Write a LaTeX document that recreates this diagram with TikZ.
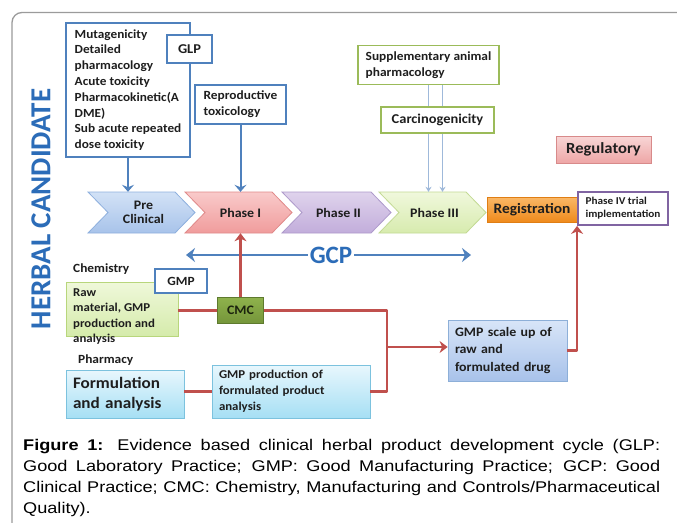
\documentclass[tikz,border=0pt]{standalone}
\usepackage{fontspec}
\setmainfont[FakeStretch=1.07]{Carlito}
\newfontfamily\plainfont{Carlito}
\newfontfamily\capfont[FakeStretch=1.17]{Liberation Sans}
\usetikzlibrary{arrows.meta}
\definecolor{accblue}{HTML}{4F81BD}
\definecolor{accred}{HTML}{C0504D}
\definecolor{accgreen}{HTML}{9BBB59}
\definecolor{accpurple}{HTML}{8064A2}
\definecolor{titleblue}{HTML}{2B6CB8}
\definecolor{txt}{HTML}{1E1E1E}
\definecolor{framegray}{HTML}{9B9B9B}
\definecolor{thinblue}{HTML}{9FB9DA}
\definecolor{ChevPreT}{HTML}{D2E2F6}
\definecolor{ChevPreB}{HTML}{A8C3EA}
\definecolor{ChevPreD}{HTML}{8EB0DE}
\definecolor{ChevOneT}{HTML}{F9CACA}
\definecolor{ChevOneB}{HTML}{F09C9C}
\definecolor{ChevOneD}{HTML}{E08A8A}
\definecolor{ChevTwoT}{HTML}{DFD3EC}
\definecolor{ChevTwoB}{HTML}{C2ADDB}
\definecolor{ChevTwoD}{HTML}{AE9ACB}
\definecolor{ChevThrT}{HTML}{F0F8DC}
\definecolor{ChevThrB}{HTML}{D7EBAE}
\definecolor{ChevThrD}{HTML}{C3DA94}
\definecolor{RegT}{HTML}{FAB867}
\definecolor{RegB}{HTML}{EF8A1C}
\definecolor{RegD}{HTML}{E07E14}
\definecolor{RgT}{HTML}{F8D6D6}
\definecolor{RgB}{HTML}{EEA6A6}
\definecolor{RgD}{HTML}{D88A8A}
\definecolor{RawT}{HTML}{EFF8DA}
\definecolor{RawB}{HTML}{D5EBAB}
\definecolor{RawD}{HTML}{B8D67C}
\definecolor{CmcT}{HTML}{8FB24C}
\definecolor{CmcB}{HTML}{74953A}
\definecolor{CmcD}{HTML}{5E7A2E}
\definecolor{CmcTxt}{HTML}{1C240E}
\definecolor{CyT}{HTML}{E8F7FD}
\definecolor{CyB}{HTML}{A6DFF4}
\definecolor{CyD}{HTML}{7CC2DE}
\definecolor{ScT}{HTML}{D8E5F8}
\definecolor{ScB}{HTML}{A8C2EA}
\definecolor{ScD}{HTML}{8DAFD8}
\newcommand\chevshape[5]{%
  \path[draw=#5, line width=0.8pt, top color=#3, bottom color=#4]
    (#1,192) -- ({#1+#2-20},192) -- ({#1+#2},212.5) -- ({#1+#2-20},233)
    -- (#1,233) -- ({#1+20},212.5) -- cycle;}
\begin{document}
\begin{tikzpicture}[x=1pt,y=-1pt,
  fs/.style 2 args={font=\bfseries\fontsize{#1}{#2}\selectfont},
  bluebox/.style={draw=accblue, line width=1.8pt, fill=white, text=txt, inner sep=0pt, align=left},
  greenbox/.style={draw=accgreen, line width=1.8pt, fill=white, text=txt, inner sep=0pt, align=left},
  chevtext/.style={minimum height=41pt, inner sep=0pt, text=txt, align=center},
  bluearrow/.style={draw=accblue, line width=2pt, -{Stealth[length=7pt,width=12pt,inset=2.5pt]}},
  gcparrow/.style={draw=accblue, line width=2.5pt, -{Stealth[length=9pt,width=14pt,inset=3pt]}},
  thinarrow/.style={draw=thinblue, line width=1pt, -{Stealth[length=5pt,width=6pt]}},
  redline/.style={draw=accred, line width=2.5pt},
  redarrow/.style={draw=accred, line width=2.5pt, -{Stealth[length=8pt,width=12pt,inset=2.5pt]}},
  grad/.style n args={3}{top color=#1, bottom color=#2, draw=#3, line width=0.8pt, text=txt, inner sep=0pt, align=left},
]
\useasboundingbox (0,0) rectangle (677,522);
\fill[white] (0,0) rectangle (677,522);
% frame
\draw[framegray, line width=1.3pt, rounded corners=10pt] (12,540) -- (12,12.5) -- (700,12.5);

% vertical title
\node[rotate=90, text=titleblue, font=\plainfont\bfseries\fontsize{29}{29}\selectfont] (herbal) at (41,209) {HERBAL CANDIDATE};

% GLP boxes
\node[bluebox, minimum width=124pt, minimum height=134pt, fs={12.4}{15.8}] (glp) at (128,90)
  {Mutagenicity\\Detailed\\pharmacology\\Acute toxicity\\Pharmacokinetic(A\\DME)\\Sub acute repeated\\dose toxicity};
\node[bluebox, minimum width=45pt, minimum height=28pt, fs={13.5}{15}, align=center] (glplbl) at (189.5,49) {GLP};
\node[bluebox, minimum width=91pt, minimum height=39pt, fs={12.5}{16}] (repro) at (240.5,104.5) {Reproductive\\toxicology};

% chevrons
\chevshape{88}{107}{ChevPreT}{ChevPreB}{ChevPreD}
\chevshape{185}{107}{ChevOneT}{ChevOneB}{ChevOneD}
\chevshape{282}{109}{ChevTwoT}{ChevTwoB}{ChevTwoD}
\chevshape{379}{107}{ChevThrT}{ChevThrB}{ChevThrD}
\node[chevtext, minimum width=80pt, fs={13}{14}] (pre) at (143.5,212.5) {Pre\\Clinical};
\node[chevtext, minimum width=80pt, fs={13}{14}] (p1) at (240.5,212.5) {Phase I};
\node[chevtext, minimum width=80pt, fs={13}{14}] (p2) at (338.5,212.5) {Phase II};
\node[chevtext, minimum width=80pt, fs={13}{14}] (p3) at (434.5,212.5) {Phase III};

\draw[bluearrow] (glp.south) -- (glp.south |- pre.north);
\draw[bluearrow] (repro.south) -- (repro.south |- p1.north);

% supplementary / carcinogenicity
\node[greenbox, minimum width=141pt, minimum height=39pt, fs={12.5}{16}] (supp) at (428.5,65) {Supplementary animal\\pharmacology};
\draw[thinarrow] (supp.south) -- (supp.south |- p3.north);
\draw[thinarrow] ([xshift=14pt]supp.south) -- ([xshift=14pt]supp.south |- p3.north);
\node[greenbox, minimum width=113pt, minimum height=26pt, fs={13.5}{15}, align=center] (carc) at (437.5,120) {Carcinogenicity};

% registration, phase IV, regulatory
\node[grad={RegT}{RegB}{RegD}, minimum width=90pt, minimum height=25pt, fs={14.4}{15}, align=center] (reg) at (532,209.5) {Registration};
\node[draw=accpurple, line width=1.8pt, fill=white, text=txt, inner sep=0pt, minimum width=90pt, minimum height=33pt, fs={10.5}{13}, align=left] (p4) at (623,208.5) {Phase IV trial\\implementation};
\node[grad={RgT}{RgB}{RgD}, minimum width=95pt, minimum height=27pt, fs={15.5}{16}, align=center] (regul) at (603.5,149.5) {Regulatory};

% GCP
\node[text=titleblue, font=\plainfont\bfseries\fontsize{25}{25}\selectfont, inner sep=2pt] (gcp) at (331,255) {GCP};
\coordinate (gcpL) at (186,255);
\coordinate (gcpR) at (471,255);
\draw[gcparrow] (gcp.west) -- (gcpL);
\draw[gcparrow] (gcp.east) -- (gcpR);

% chemistry
\node[anchor=west, text=txt, fs={12.5}{14}, inner sep=0pt] (chem) at (73,269) {Chemistry};
\node[grad={RawT}{RawB}{RawD}, minimum width=112pt, minimum height=54pt] (raw) at (122,309) {};
\node[anchor=north west, text=txt, fs={12}{15.5}, inner sep=0pt, align=left] (rawtxt) at (73,288.5) {Raw\\material, GMP\\production and\\analysis};
\node[bluebox, minimum width=52pt, minimum height=24pt, fs={12.5}{14}, align=center] (gmp) at (181,281) {GMP};
\node[grad={CmcT}{CmcB}{CmcD}, minimum width=46pt, minimum height=26pt, fs={13}{14}, align=center, text=CmcTxt] (cmc) at (240.5,310.5) {CMC};

% pharmacy
\node[anchor=west, text=txt, fs={12.5}{14}, inner sep=0pt] (pharm) at (78,360) {Pharmacy};
\node[grad={CyT}{CyB}{CyD}, minimum width=118pt, minimum height=48pt, text width=104pt, fs={16}{20}] (form) at (125,394) {Formulation\\and analysis};
\node[grad={CyT}{CyB}{CyD}, minimum width=158pt, minimum height=53pt, text width=144pt, fs={12}{16}] (gprod) at (291,391.5) {GMP production of\\formulated product\\analysis};
\node[grad={ScT}{ScB}{ScD}, minimum width=119pt, minimum height=61pt, text width=105pt, fs={13}{17.5}] (scale) at (507.5,350.5) {GMP scale up of\\raw and\\formulated drug};

% red connectors
\coordinate (jt) at (387,310.5);
\coordinate (jm) at (387,347);
\coordinate (jb) at (387,391.5);
\draw[redline] (raw.east |- cmc.west) -- (cmc.west);
\draw[redarrow] (cmc.north) -- (cmc.north |- p1.south);
\draw[redline, line join=round] (cmc.east) -- (jt) -- (jb) -- (gprod.east);
\draw[redarrow] (jm) -- (scale.west |- jm);
\draw[redline] (form.east |- gprod.west) -- (gprod.west);
\draw[redarrow, line join=round] (scale.east) -| (p4.south west);

% caption
\node[anchor=north west, inner sep=0pt, align=left, text=black, font=\capfont\fontsize{15.5}{21}\selectfont] (cap) at (23,439)
 {\makebox[637pt][s]{\textbf{Figure 1:} Evidence based clinical herbal product development cycle (GLP:}\\
  \makebox[637pt][s]{Good Laboratory Practice; GMP: Good Manufacturing Practice; GCP: Good}\\
  \makebox[637pt][s]{Clinical Practice; CMC: Chemistry, Manufacturing and Controls/Pharmaceutical}\\
  Quality).};
\end{tikzpicture}
\end{document}
